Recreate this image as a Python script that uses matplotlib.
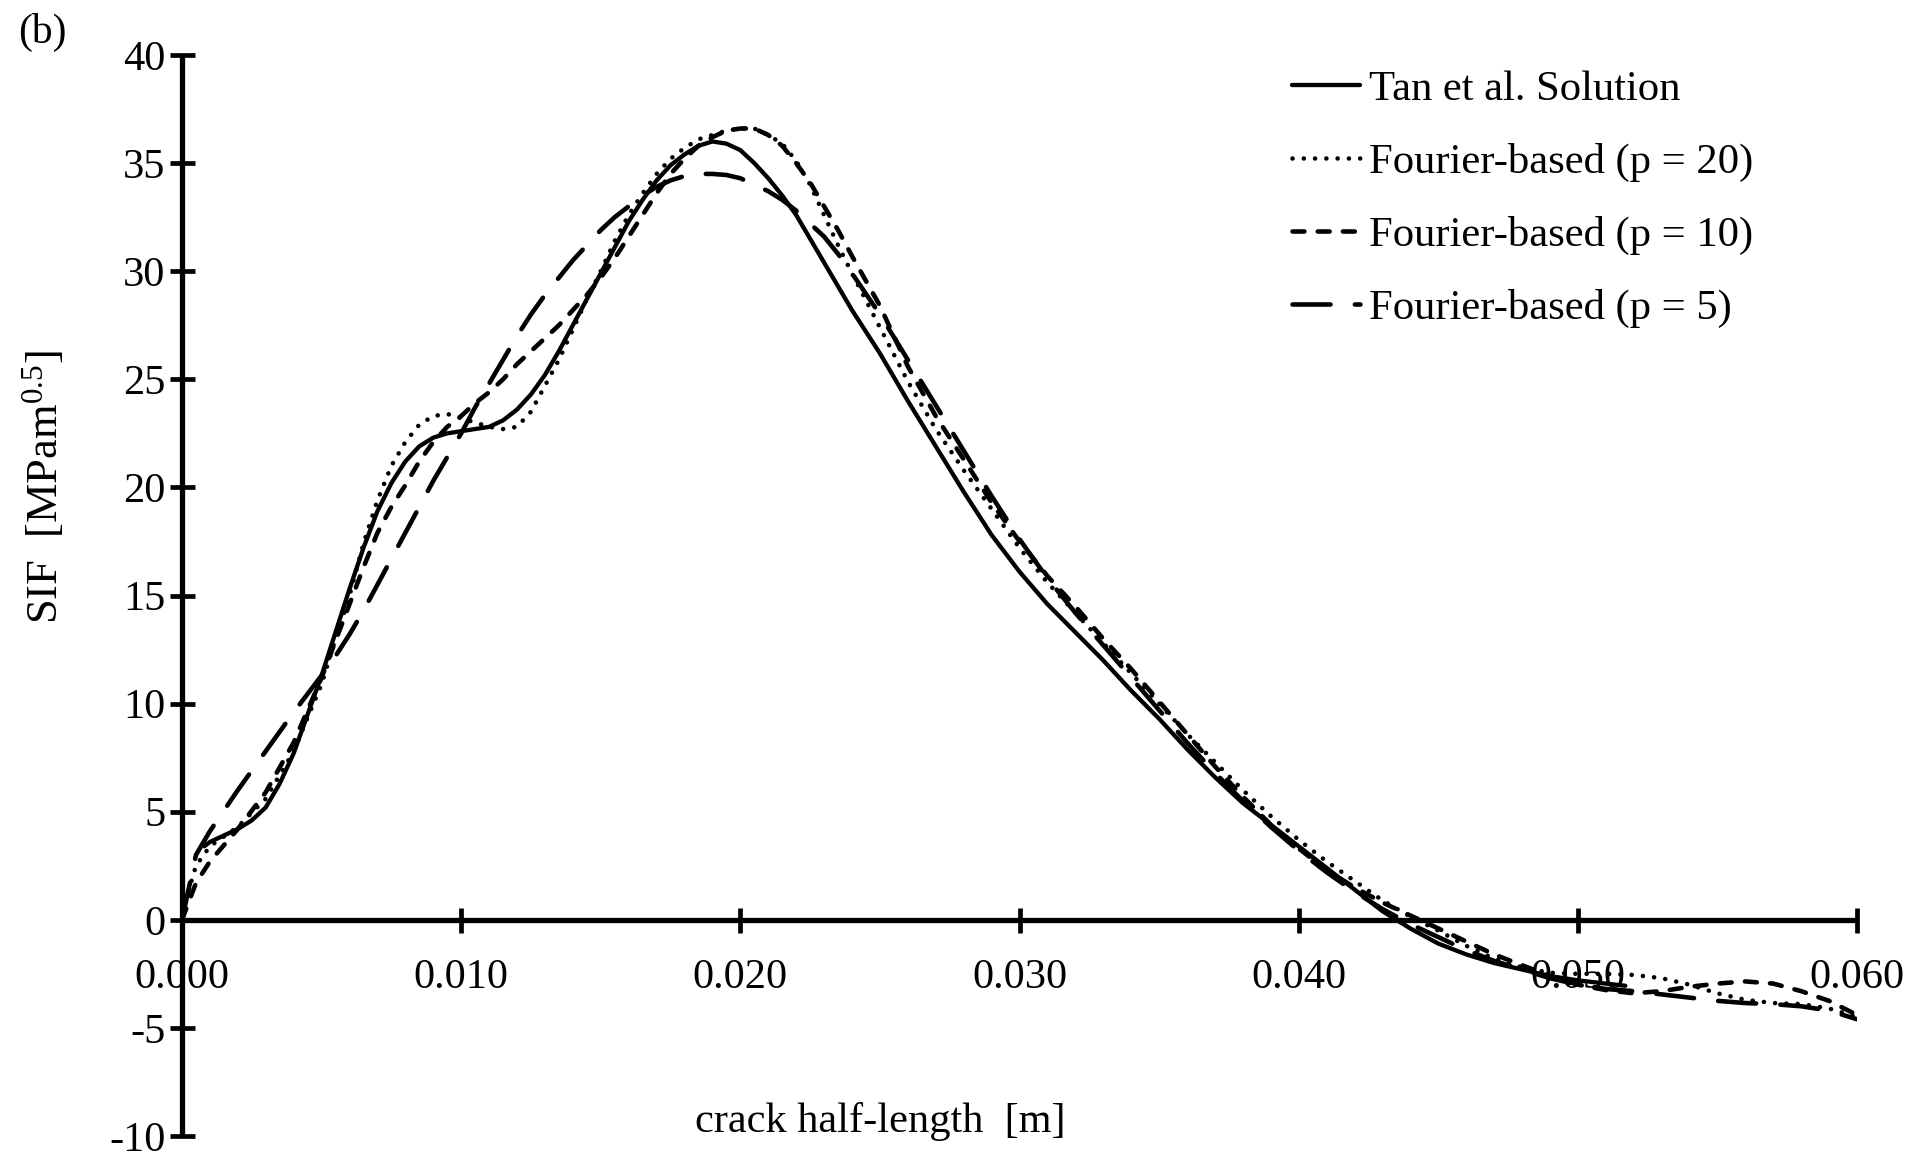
import matplotlib
matplotlib.use('Agg')
import matplotlib.pyplot as plt
import numpy as np

plt.rcParams['font.family'] = ['Liberation Serif', 'DejaVu Serif']
plt.rcParams['mathtext.fontset'] = 'custom'
plt.rcParams['mathtext.rm'] = 'Liberation Serif'
plt.rcParams['mathtext.it'] = 'Liberation Serif:italic'

# crack half-length in mm (converted to m below)
x_tan_mm = [0.8, 1, 2, 2.5, 3, 3.5, 4,
            5, 5.5, 6, 6.5, 7, 7.5, 8, 8.5, 9, 9.5, 10, 10.5, 11, 11.5, 12, 12.5, 13, 13.5,
            14, 14.5, 15, 15.5, 16, 16.5, 17, 17.5, 18, 18.5, 19, 19.5, 20, 20.5, 21, 21.5,
            22, 22.5, 23, 23.5, 24,
            25, 26, 27, 28, 29, 30, 31, 32, 33, 34, 35, 36, 37, 38, 39, 40, 41, 42, 43, 44,
            45, 46, 47, 48, 49, 50, 51, 51.7]
sif_tan = [3.4, 3.6, 4.2, 4.6, 5.2, 6.3, 7.7,
           11.3, 13.3, 15.3, 17.2, 18.9, 20.2, 21.2, 21.9, 22.3, 22.5, 22.6, 22.7, 22.8,
           23.1, 23.6, 24.3, 25.2, 26.3, 27.5, 28.7, 29.9, 31.1, 32.3, 33.3, 34.2, 34.9,
           35.4, 35.8, 36.0, 35.9, 35.6, 35.0, 34.3, 33.5, 32.6, 31.5, 30.4, 29.3, 28.2,
           26.2, 24.0, 21.9, 19.8, 17.8, 16.1, 14.6, 13.3, 12.0, 10.6, 9.3, 7.9, 6.6, 5.4,
           4.4, 3.4, 2.4, 1.4, 0.4, -0.4, -1.1, -1.6, -2.0, -2.3, -2.6, -2.8, -2.95, -3.05]

x_four_mm = [0, 0.5, 1, 2, 3, 4,
             5, 5.5, 6, 6.5, 7, 7.5, 8, 8.5, 9, 9.5, 10, 10.5, 11, 11.5, 12, 12.5, 13, 13.5,
             14, 14.5, 15, 15.5, 16, 16.5, 17, 17.5, 18, 18.5, 19, 19.5, 20, 20.5, 21, 21.5,
             22, 22.5, 23, 23.5, 24,
             25, 26, 27, 28, 29, 30, 31, 32, 33, 34, 35, 36, 37, 38, 39, 40, 41, 42, 43, 44,
             45, 46, 47, 48, 49, 50, 51, 52, 53, 54, 55, 56, 57, 58, 59, 60]
sif_p20 = [0.3, 2.5, 3.4, 4.3, 5.6, 7.8,
           10.9, 13.0, 15.0, 17.4, 19.4, 21.0, 22.1, 22.9, 23.3, 23.4, 23.2, 23.0, 22.8,
           22.7, 22.8, 23.5, 24.7, 25.9, 27.3, 28.7, 30.0, 31.4, 32.6, 33.6, 34.5, 35.2,
           35.7, 36.1, 36.3, 36.5, 36.6, 36.6, 36.3, 35.9, 35.1, 34.0, 32.6, 31.2, 29.9,
           27.4, 24.9, 22.7, 20.8, 19.0, 17.2, 15.6, 14.2, 12.8, 11.4, 10.0, 8.6, 7.3, 6.0,
           4.8, 3.7, 2.7, 1.8, 0.9, 0.15, -0.5, -1.2, -1.8, -2.2, -2.45, -2.5, -2.5, -2.55,
           -2.7, -3.0, -3.4, -3.7, -3.85, -3.9, -4.1, -4.5]
sif_p10 = [0.0, 1.7, 2.7, 4.2, 5.9, 8.2,
           11.2, 12.9, 14.6, 16.3, 17.9, 19.1, 20.1, 21.2, 22.1, 22.8, 23.3, 23.9, 24.4,
           25.0, 25.7, 26.3, 26.9, 27.5, 28.2, 28.9, 29.7, 30.6, 31.6, 32.6, 33.6, 34.5,
           35.2, 35.8, 36.2, 36.5, 36.6, 36.6, 36.3, 35.8, 35.0, 34.1, 33.0, 31.9, 30.7,
           28.4, 25.6, 23.3, 21.3, 19.3, 17.5, 15.9, 14.5, 13.0, 11.6, 10.1, 8.6, 7.1, 5.7,
           4.4, 3.3, 2.3, 1.5, 0.8, 0.2, -0.4, -1.0, -1.6, -2.1, -2.6, -3.0, -3.25, -3.4,
           -3.3, -3.1, -2.95, -2.85, -2.95, -3.3, -3.75, -4.4]
sif_p5 = [0.0, 3.0, 4.1, 6.0, 7.8, 9.6,
          11.3, 12.2, 13.2, 14.3, 15.5, 16.7, 17.9, 19.1, 20.3, 21.4, 22.5, 23.7, 24.8,
          25.9, 27.0, 28.0, 28.9, 29.7, 30.5, 31.2, 31.9, 32.5, 33.0, 33.5, 33.9, 34.2,
          34.4, 34.5, 34.5, 34.45, 34.3, 34.0, 33.7, 33.3, 32.8, 32.2, 31.6, 30.8, 29.9,
          28.0, 25.9, 23.8, 21.7, 19.6, 17.6, 15.8, 14.2, 12.7, 11.2, 9.7, 8.2, 6.8, 5.5,
          4.3, 3.2, 2.2, 1.3, 0.5, -0.2, -0.8, -1.4, -1.9, -2.3, -2.7, -3.0, -3.2, -3.3,
          -3.45, -3.6, -3.75, -3.85, -3.9, -4.0, -4.2, -4.6]

x_ticks = [0.000, 0.010, 0.020, 0.030, 0.040, 0.050, 0.060]
y_ticks = [-10, -5, 0, 5, 10, 15, 20, 25, 30, 35, 40]

x_tan = np.array(x_tan_mm) / 1000
x_four = np.array(x_four_mm) / 1000

W, H = 1930, 1160
fig = plt.figure(figsize=(W / 100, H / 100), dpi=100)
ax = fig.add_axes([182 / W, 1 - 1136 / H, (1857 - 182) / W, (1136 - 55) / H])

ax.plot(x_tan, sif_tan, color='black', lw=3.1, solid_capstyle='round',
        solid_joinstyle='round', label='Tan et al. Solution')
ax.plot(x_four, sif_p20, color='black', lw=3.3, linestyle=(0, (0.01, 2.45)),
        dash_capstyle='round', label='Fourier-based (p = 20)')
ax.plot(x_four, sif_p10, color='black', lw=3.3, linestyle=(0, (2.6, 2.9)),
        dash_capstyle='round', label='Fourier-based (p = 10)')
ax.plot(x_four, sif_p5, color='black', lw=3.3, linestyle=(0, (8.3, 5.3)),
        dash_capstyle='round', label='Fourier-based (p = 5)')

ax.set_xlim(0, 0.060)
ax.set_ylim(-10, 40)
ax.spines['top'].set_visible(False)
ax.spines['right'].set_visible(False)
ax.spines['bottom'].set_position(('data', 0))
for s in ('left', 'bottom'):
    ax.spines[s].set_linewidth(3.8)
    ax.spines[s].set_capstyle('butt')

ax.set_xticks(x_ticks)
ax.set_xticklabels(['%.3f' % v for v in x_ticks])
ax.set_yticks(y_ticks)
ax.set_yticklabels([str(v) for v in y_ticks])
ax.tick_params(axis='both', direction='inout', length=18, width=3.4, labelsize=30.5)
ax.tick_params(axis='y', pad=3)
ax.tick_params(axis='x', pad=19)

ax.text(0.417, 0.013, 'crack half-length  [m]', transform=ax.transAxes,
        ha='center', va='center', fontsize=30.5)
fig.text(43 / W, 1 - 487 / H, r'SIF  [MPam$^{0.5}$]', rotation=90,
         ha='center', va='center', fontsize=32)
fig.text(42 / W, 1 - 32 / H, '(b)', ha='center', va='center', fontsize=30)

leg = ax.legend(loc='upper left', bbox_to_anchor=(1292 / W, 1 - 70 / H),
                bbox_transform=fig.transFigure, frameon=False, fontsize=30.7,
                handlelength=1.6, handletextpad=0.2, labelspacing=0.8,
                borderaxespad=0, borderpad=0)

fig.savefig('out.png', dpi=100)
